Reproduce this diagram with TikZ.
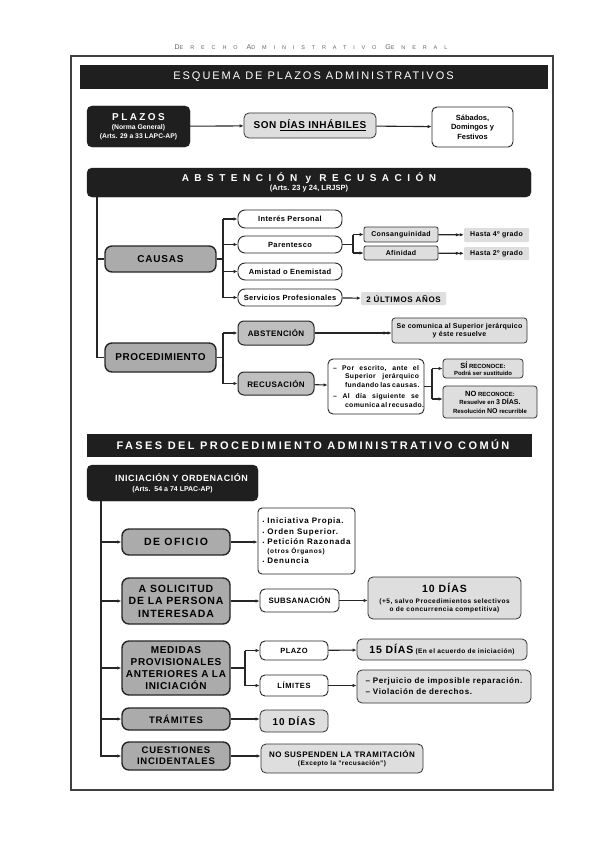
\documentclass[tikz,border=0pt]{standalone}
\usepackage{fontspec}
\setmainfont{Liberation Sans}
\usetikzlibrary{arrows.meta}
\newcommand\fs[2]{\fontsize{#1}{#2}\selectfont}
\newcommand\tr[1]{\addfontfeatures{LetterSpace=#1}}
\begin{document}
\begin{tikzpicture}[x=1pt,y=-1pt,
  every node/.style={inner sep=0pt, align=center},
  blackbox/.style={fill=black!88, draw=black!88, rounded corners=5pt, text=white},
  bar/.style={fill=black!88, draw=black!88, text=white},
  graybox/.style={fill=black!33, draw=black!85, line width=1.4pt, rounded corners=7pt},
  midbox/.style={fill=black!25, draw=black!85, line width=1pt, rounded corners=6pt},
  lightbox/.style={fill=black!13, draw=black!80, line width=0.8pt, rounded corners=3pt},
  whitebox/.style={fill=white, draw=black!85, line width=0.9pt, rounded corners=4pt},
  pill/.style={fill=white, draw=black!85, line width=0.9pt, rounded corners=7pt},
  flatbox/.style={fill=black!13, draw=none, rounded corners=1pt},
  link/.style={line width=1.1pt, draw=black!85},
  arr/.style={link, -{Latex[length=4pt,width=3.5pt]}},
  darr/.style={link, -{Latex[length=4pt,width=3.5pt] Latex[length=4pt,width=3.5pt]}},
  frame/.style={draw=black!75, line width=1.3pt}
]
\useasboundingbox (0,0) rectangle (599,848);
\fill[white] (0,0) rectangle (599,848);

% header
\node[text=black!60, font={\tr{125}}] (hdr) at (311,47) {\fs{7}{8}D\fs{5.5}{8}ERECHO\hspace{9pt}\fs{7}{8}A\fs{5.5}{8}DMINISTRATIVO\hspace{9pt}\fs{7}{8}G\fs{5.5}{8}ENERAL};
\draw[frame] (71,56) rectangle (553,790);
\node[bar, minimum width=467, minimum height=23, font={\fs{11}{13}\tr{18}}] (ttl) at (313.5,76.5) {ESQUEMA DE PLAZOS ADMINISTRATIVOS};

% PLAZOS
\node[blackbox, minimum width=103, minimum height=41, font={\fs{6.8}{8.5}\bfseries}] (plazos) at (138.5,126.5)
  {{\fs{10}{12}\tr{24}PLAZOS}\\[1pt](Norma General)\\(Arts. 29 a 33 LAPC-AP)};
\node[lightbox, rounded corners=5pt, minimum width=132, minimum height=25, font={\fs{10}{11}\bfseries\tr{5}}] (son) at (310,125.5)
  {SON \underline{DÍAS INHÁBILES}};
\node[whitebox, rounded corners=5pt, minimum width=81, minimum height=40, font={\fs{7.5}{9.5}\bfseries}] (sab) at (472.5,127)
  {Sábados,\\Domingos y\\Festivos};
\draw[arr] (plazos) -- (son);
\draw[arr] (son) -- (sab);

% ABSTENCION y RECUSACION
\node[blackbox, minimum width=444, minimum height=29, font={\fs{7.5}{9}\bfseries}] (absbar) at (309,182.5)
  {{\fs{10}{12}\tr{55}ABSTENCIÓN y RECUSACIÓN}\\(Arts. 23 y 24, LRJSP)};
\node[graybox, minimum width=111, minimum height=26, font={\fs{10}{12}\bfseries\tr{8}}] (causas) at (160.5,259) {CAUSAS};
\node[graybox, minimum width=111, minimum height=29, font={\fs{10}{12}\bfseries\tr{5}}] (proc) at (160.5,357.5) {PROCEDIMIENTO};
\coordinate (av) at (97,0);
\draw[link] (absbar.south -| av) |- (proc.west);
\draw[link] (av |- causas.west) -- (causas.west);

\tikzset{pilltext/.style={pill, minimum width=104, font={\fs{7.5}{9}\bfseries\tr{5}}}}
\node[pilltext, minimum height=18] (interes) at (290,219) {Interés Personal};
\node[pilltext, minimum height=17] (parent) at (290,244.5) {Parentesco};
\node[pilltext, minimum height=17] (amistad) at (290,271.5) {Amistad o Enemistad};
\node[pilltext, minimum height=17] (serv) at (290,297.5) {Servicios Profesionales};
\coordinate (cb) at (223,0);
\draw[link] (causas.east) -- (cb |- causas.east);
\draw[link] (cb |- interes.west) -- (cb |- serv.west);
\draw[arr] (cb |- interes.west) -- (interes.west);
\draw[arr] (cb |- parent.west) -- (parent.west);
\draw[arr] (cb |- amistad.west) -- (amistad.west);
\draw[arr] (cb |- serv.west) -- (serv.west);

\tikzset{smalltext/.style={font={\fs{7}{8}\bfseries\tr{5}}}}
\node[lightbox, smalltext, rounded corners=2pt, minimum width=74, minimum height=15] (consang) at (401,234.5) {Consanguinidad};
\node[lightbox, smalltext, rounded corners=2pt, minimum width=74, minimum height=14] (afin) at (401,253) {Afinidad};
\coordinate (pb) at (353,0);
\draw[link] (parent.east) -- (pb |- parent.east);
\draw[link] (pb |- consang.west) -- (pb |- afin.west);
\draw[arr] (pb |- consang.west) -- (consang.west);
\draw[arr] (pb |- afin.west) -- (afin.west);
\node[flatbox, smalltext, minimum width=65, minimum height=14] (h4) at (496.5,235) {Hasta 4º grado};
\node[flatbox, smalltext, minimum width=65, minimum height=13] (h2) at (496.5,253.5) {Hasta 2º grado};
\draw[darr] (consang) -- (h4);
\draw[darr] (afin) -- (h2);
\node[flatbox, minimum width=85, minimum height=13, font={\fs{8}{9}\bfseries\tr{8}}] (ult) at (403.5,298.5) {2 ÚLTIMOS AÑOS};
\draw[arr] (serv) -- (ult);

% PROCEDIMIENTO branch
\node[midbox, minimum width=76, minimum height=24, font={\fs{8}{9}\bfseries\tr{5}}] (abst) at (276,333) {ABSTENCIÓN};
\node[midbox, minimum width=76, minimum height=23, font={\fs{8}{9}\bfseries\tr{5}}] (recus) at (276,383.5) {RECUSACIÓN};
\coordinate (prb) at (223,0);
\draw[link] (proc.east) -- (prb |- proc.east);
\draw[link] (prb |- abst.west) -- (prb |- recus.west);
\draw[arr] (prb |- abst.west) -- (abst.west);
\draw[arr] (prb |- recus.west) -- (recus.west);
\node[lightbox, minimum width=135, minimum height=25, font={\fs{7}{8.5}\bfseries\tr{4}}] (secom) at (459.5,330.5) {Se comunica al Superior jerárquico\\y éste resuelve};
\draw[darr] (abst.east) -- (abst.east -| secom.west);
\node[whitebox, rounded corners=5pt, minimum width=96, minimum height=55, align=left, font={\fs{6.8}{8.5}\bfseries\tr{6}}] (escr) at (376,386.5)
  {\makebox[86pt][s]{– Por escrito, ante el}\\\hspace*{12pt}\makebox[74pt][s]{Superior jerárquico}\\\hspace*{12pt}\makebox[74pt][s]{fundando las causas.}\\[3pt]\makebox[86pt][s]{– Al día siguiente se}\\\hspace*{12pt}\makebox[74pt][s]{comunica al recusado.}};
\draw[arr] (recus) -- (escr);
\node[lightbox, minimum width=80, minimum height=19, font={\fs{6}{7.5}\bfseries}] (si) at (483,368.5) {{\fs{7.5}{8}SÍ} RECONOCE:\\Podrá ser sustituido};
\node[lightbox, minimum width=94, minimum height=32, font={\fs{6}{8.5}\bfseries}] (no) at (490,402) {{\fs{7.5}{9}NO} RECONOCE:\\Resuelve en {\fs{7}{8}3 DÍAS.}\\Resolución {\fs{7}{8}NO} recurrible};
\coordinate (rb) at (432,0);
\draw[link] (escr.east) -- (rb |- escr.east);
\draw[link] (rb |- si.west) -- (rb |- 0,399);
\draw[arr] (rb |- si.west) -- (si.west);
\draw[arr] (rb |- 0,399) -- (no.west |- 0,399);

% FASES
\node[bar, minimum width=444, minimum height=22, font={\fs{11}{12}\bfseries\tr{22}}] (fases) at (309,445) {\hspace*{8pt}FASES DEL PROCEDIMIENTO ADMINISTRATIVO COMÚN};
\node[blackbox, minimum width=171, minimum height=36, font={\fs{7}{8.5}\bfseries}] (inic) at (172.5,483)
  {\hspace*{18pt}{\fs{9}{10}\tr{6}INICIACIÓN Y ORDENACIÓN}\\[2pt](Arts.\ \ 54 a 74 LPAC-AP)};
\node[graybox, minimum width=108, minimum height=26, font={\fs{10.5}{12}\bfseries\tr{14}}] (oficio) at (176,542) {DE OFICIO};
\node[graybox, minimum width=108, minimum height=46, font={\fs{10.5}{12.5}\bfseries\tr{8}}] (asol) at (176,601) {A SOLICITUD\\DE LA PERSONA\\INTERESADA};
\node[graybox, minimum width=108, minimum height=54, font={\fs{10}{12.2}\bfseries\tr{7}}] (medidas) at (176,668) {MEDIDAS\\PROVISIONALES\\ANTERIORES A LA\\INICIACIÓN};
\node[graybox, minimum width=108, minimum height=22, font={\fs{9.5}{11}\bfseries\tr{8}}] (tram) at (176,719) {TRÁMITES};
\node[graybox, minimum width=108, minimum height=28, font={\fs{9.5}{11}\bfseries\tr{8}}] (cuest) at (176,756) {CUESTIONES\\INCIDENTALES};
\coordinate (iv) at (101,0);
\draw[arr] (inic.south -| iv) |- (cuest.west);
\draw[arr] (iv |- oficio.west) -- (oficio.west);
\draw[arr] (iv |- asol.west) -- (asol.west);
\draw[arr] (iv |- medidas.west) -- (medidas.west);
\draw[arr] (iv |- tram.west) -- (tram.west);

\newcommand\bul{{\fs{5}{9}•}\ }
\node[whitebox, minimum width=97, minimum height=66, align=left, font={\fs{8}{10.5}\bfseries\tr{10}}] (lista) at (306.5,541)
  {\bul Iniciativa Propia.\\\bul Orden Superior.\\\bul Petición Razonada\\[-2pt]\hphantom{\bul}{\fs{6.5}{8}(otros Órganos)}\\\bul Denuncia};
\draw[arr] (oficio) -- (lista.west |- oficio);

\node[whitebox, rounded corners=5pt, minimum width=79, minimum height=23, font={\fs{7.8}{9}\bfseries\tr{5}}] (subs) at (299.5,600.5) {SUBSANACIÓN};
\node[lightbox, rounded corners=5pt, minimum width=153, minimum height=42, font={\fs{6.5}{7.8}\bfseries\tr{8}}] (diez) at (444.5,598)
  {{\fs{10.5}{12}\tr{10}10 DÍAS}\\[3pt](+5, salvo Procedimientos selectivos\\o de concurrencia competitiva)};
\draw[arr] (asol) -- (subs.west |- asol);
\draw[arr] (subs) -- (diez.west |- subs);

\node[whitebox, rounded corners=5pt, minimum width=68, minimum height=19, font={\fs{7.5}{9}\bfseries\tr{6}}] (plazo) at (294,650.5) {PLAZO};
\node[whitebox, rounded corners=5pt, minimum width=68, minimum height=21, font={\fs{7.5}{9}\bfseries\tr{8}}] (lim) at (294,685.5) {LÍMITES};
\coordinate (mb) at (245,0);
\draw[link] (medidas.east) -- (mb |- medidas.east);
\draw[link] (mb |- plazo.west) -- (mb |- lim.west);
\draw[arr] (mb |- plazo.west) -- (plazo.west);
\draw[arr] (mb |- lim.west) -- (lim.west);
\node[lightbox, rounded corners=5pt, minimum width=170, minimum height=21, font={\fs{6.5}{8}\bfseries\tr{7}}] (quince) at (442,649.5)
  {{\fs{10.5}{11}\tr{8}15 DÍAS} (En el acuerdo de iniciación)};
\node[lightbox, rounded corners=5pt, minimum width=174, minimum height=33, align=left, font={\fs{8}{11}\bfseries\tr{8}}] (perj) at (444,686.5)
  {– Perjuicio de imposible reparación.\\– Violación de derechos.};
\draw[arr] (plazo) -- (quince);
\draw[arr] (lim) -- (perj.west |- lim);

\node[lightbox, rounded corners=5pt, minimum width=68, minimum height=22, font={\fs{10}{11}\bfseries\tr{10}}] (diez2) at (294,721) {10 DÍAS};
\draw[arr] (tram) -- (diez2.west |- tram);
\node[lightbox, rounded corners=5pt, minimum width=162, minimum height=29, font={\fs{6.5}{8.5}\bfseries\tr{6}}] (nosusp) at (342,758.5)
  {{\fs{8}{9}\tr{6}NO SUSPENDEN LA TRAMITACIÓN}\\(Excepto la "recusación")};
\draw[arr] (cuest) -- (nosusp.west |- cuest);
\end{tikzpicture}
\end{document}
